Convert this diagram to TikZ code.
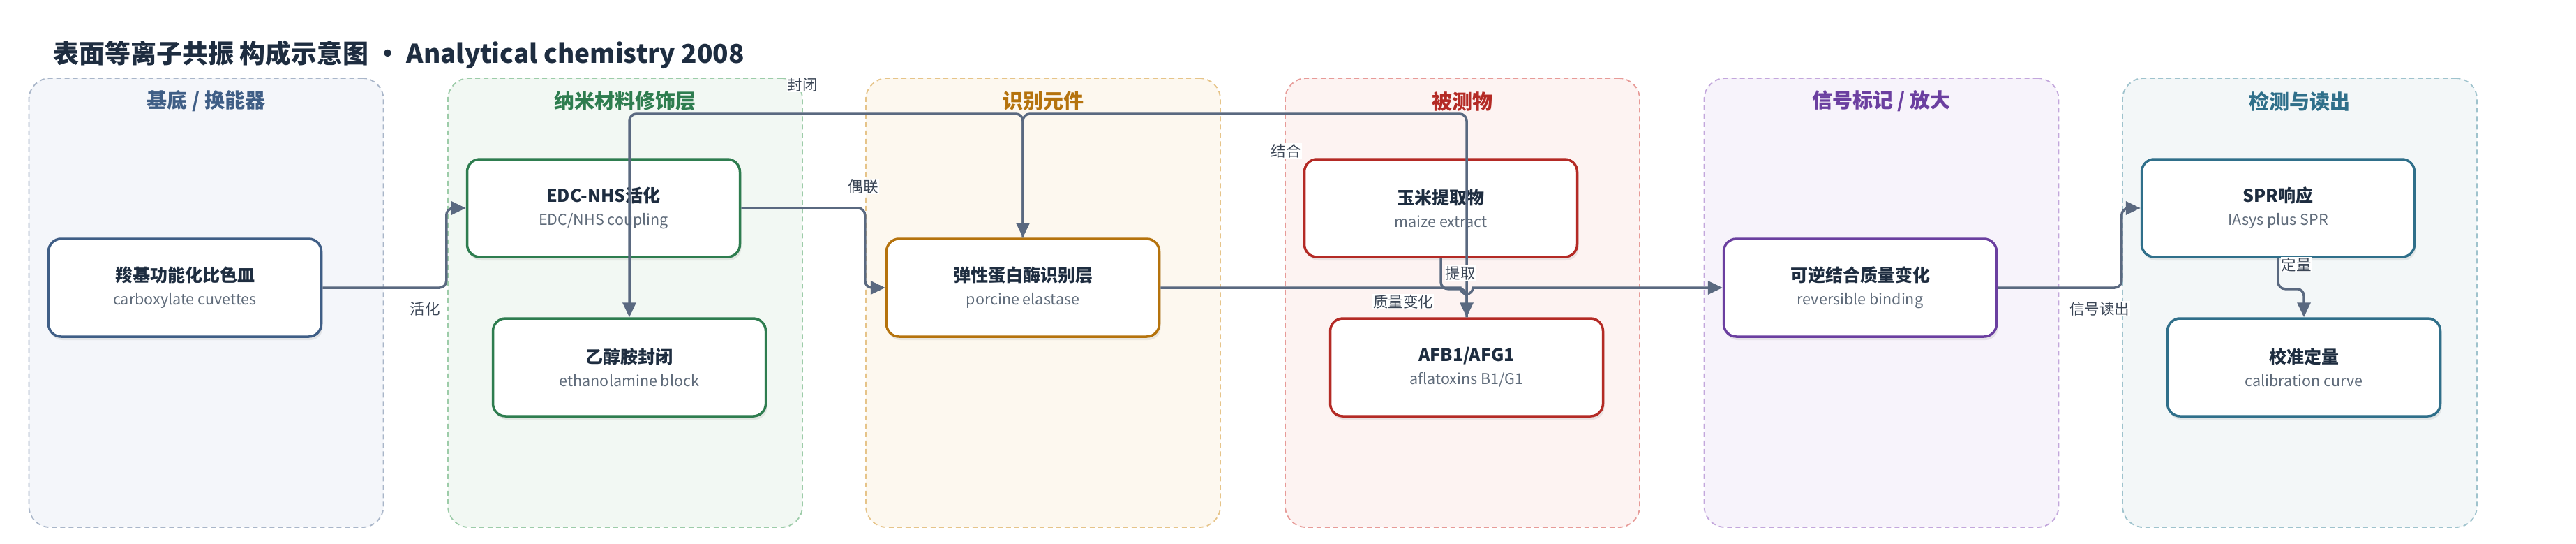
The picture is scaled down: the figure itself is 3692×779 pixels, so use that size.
\documentclass[tikz,border=0pt]{standalone}
\usepackage{fontspec}
\setmainfont{Noto Sans CJK SC}
\usetikzlibrary{arrows.meta,shadows}

\definecolor{ink}{HTML}{1E2D40}
\definecolor{subgray}{HTML}{5F6B7A}
\definecolor{edgec}{HTML}{5A6980}
\definecolor{lblc}{HTML}{3A4555}
\definecolor{cBase}{HTML}{3F5E86}\definecolor{fBase}{HTML}{F4F6FA}\definecolor{dBase}{HTML}{A9B6C9}
\definecolor{cNano}{HTML}{2E7D4F}\definecolor{fNano}{HTML}{F2F8F3}\definecolor{dNano}{HTML}{9DCCA9}
\definecolor{cRec}{HTML}{B5730D}\definecolor{fRec}{HTML}{FDF8EF}\definecolor{dRec}{HTML}{E6C489}
\definecolor{cAna}{HTML}{B42A25}\definecolor{fAna}{HTML}{FDF3F2}\definecolor{dAna}{HTML}{E79B98}
\definecolor{cSig}{HTML}{6B3FA0}\definecolor{fSig}{HTML}{F7F3FB}\definecolor{dSig}{HTML}{C3A7DC}
\definecolor{cDet}{HTML}{2F6F8A}\definecolor{fDet}{HTML}{F3F7F8}\definecolor{dDet}{HTML}{9FC3CD}

\tikzset{
  panel/.style 2 args={draw=#1, fill=#2, dash pattern=on 7pt off 5pt, line width=1.8pt,
    rounded corners=30pt, minimum width=508pt, minimum height=643pt},
  ptitle/.style={font=\fontsize{29}{32}\selectfont\bfseries},
  box/.style={draw=#1, fill=white, line width=3.5pt, rounded corners=18pt,
    minimum width=391pt, minimum height=140pt, align=center, text=ink,
    font=\fontsize{25}{33}\selectfont,
    drop shadow={shadow xshift=2pt, shadow yshift=-5pt, opacity=0.15}},
  flow/.style={draw=edgec, line width=3.5pt, rounded corners=10pt,
    -{Triangle[length=21pt,width=19pt]}},
  lbl/.style={fill=white, inner sep=1pt, text=lblc, font=\fontsize{21.5}{24}\selectfont},
}

\begin{document}
\begin{tikzpicture}[x=1pt,y=-1pt]
\useasboundingbox (0,0) rectangle (3692,779);

\node[anchor=base west, inner sep=0pt, text=ink, font=\fontsize{37}{40}\selectfont\bfseries] (title) at (76,90)
  {表面等离子共振 构成示意图 · Analytical chemistry 2008};

% lanes
\node[panel={dBase}{fBase}] (p1) at (295.5,433.5) {};
\node[panel={dNano}{fNano}] (p2) at (896,433.5) {};
\node[panel={dRec}{fRec}] (p3) at (1495,433.5) {};
\node[panel={dAna}{fAna}] (p4) at (2096,433.5) {};
\node[panel={dSig}{fSig}] (p5) at (2696.5,433.5) {};
\node[panel={dDet}{fDet}] (p6) at (3296,433.5) {};

\node[ptitle, text=cBase] (t1) at (295.5,145) {基底 / 换能器};
\node[ptitle, text=cNano] (t2) at (896,145) {纳米材料修饰层};
\node[ptitle, text=cRec] (t3) at (1495,145) {识别元件};
\node[ptitle, text=cAna] (t4) at (2096,145) {被测物};
\node[ptitle, text=cSig] (t5) at (2696.5,145) {信号标记 / 放大};
\node[ptitle, text=cDet] (t6) at (3296,145) {检测与读出};

% steps
\node[box=cBase] (cuvette) at (265,412) {{\bfseries 羧基功能化比色皿}\\{\fontsize{21.5}{24}\selectfont\color{subgray}carboxylate cuvettes}};
\node[box=cNano] (edc) at (865,298) {{\bfseries EDC-NHS活化}\\{\fontsize{21.5}{24}\selectfont\color{subgray}EDC/NHS coupling}};
\node[box=cNano] (block) at (902,526) {{\bfseries 乙醇胺封闭}\\{\fontsize{21.5}{24}\selectfont\color{subgray}ethanolamine block}};
\node[box=cRec] (elastase) at (1466,412) {{\bfseries 弹性蛋白酶识别层}\\{\fontsize{21.5}{24}\selectfont\color{subgray}porcine elastase}};
\node[box=cAna] (maize) at (2065,298) {{\bfseries 玉米提取物}\\{\fontsize{21.5}{24}\selectfont\color{subgray}maize extract}};
\node[box=cAna] (afb) at (2102,526) {{\bfseries AFB1/AFG1}\\{\fontsize{21.5}{24}\selectfont\color{subgray}aflatoxins B1/G1}};
\node[box=cSig] (binding) at (2666,412) {{\bfseries 可逆结合质量变化}\\{\fontsize{21.5}{24}\selectfont\color{subgray}reversible binding}};
\node[box=cDet] (spr) at (3265,298) {{\bfseries SPR响应}\\{\fontsize{21.5}{24}\selectfont\color{subgray}IAsys plus SPR}};
\node[box=cDet] (calib) at (3302,526) {{\bfseries 校准定量}\\{\fontsize{21.5}{24}\selectfont\color{subgray}calibration curve}};

% connectors
\coordinate (lane) at (0,163);
\draw[flow] (cuvette.east) -| ([xshift=-28pt]edc.west) -- (edc.west);
\draw[flow] (edc.east) -| ([xshift=-29pt]elastase.west) -- (elastase.west);
\draw[flow] (elastase.north) -- (elastase.north |- lane) -| (block.north);
\draw[flow] (afb.north) -- (afb.north |- lane) -| (elastase.north);
\draw[flow] (maize.south) -- ++(0,44) -| (afb.north);
\draw[flow, sharp corners] (elastase.east) -- ([xshift=-9pt]elastase.east -| afb.north) arc(180:0:9) -- (binding.west);
\draw[flow] (binding.east) -| ([xshift=-27pt]spr.west) -- (spr.west);
\draw[flow] (spr.south) -- ++(0,44) -| (calib.north);

\node[lbl] (l1) at (609,442) {活化};
\node[lbl] (l2) at (1237,267) {偶联};
\node[lbl] (l3) at (1150,121) {封闭};
\node[lbl] (l4) at (1843,216) {结合};
\node[lbl] (l5) at (2093,391) {提取};
\node[lbl] (l6) at (2011,432) {质量变化};
\node[lbl] (l7) at (3009,442) {信号读出};
\node[lbl] (l8) at (3291,379) {定量};
\end{tikzpicture}
\end{document}
